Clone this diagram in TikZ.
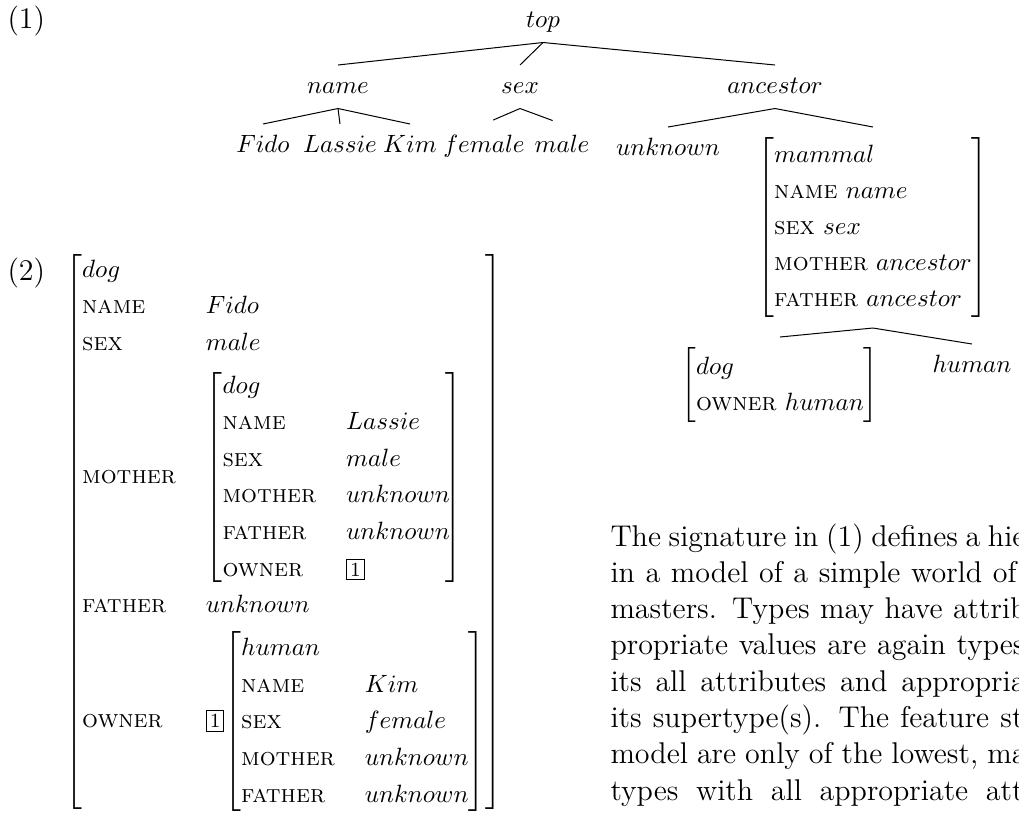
\documentclass[tikz,border=0pt]{standalone}
\usepackage{amsmath}
\usepackage{tikz}
\usetikzlibrary{positioning}

\renewcommand{\arraystretch}{1.2}
\newcommand{\rasgo}[1]{\textsc{#1}}
\newcommand{\etiq}[1]{{\setlength{\fboxsep}{1.2pt}\fbox{\footnotesize #1}}}

\tikzset{
  tipo/.style={inner xsep=0pt, inner ysep=4pt, text height=7pt, text depth=2pt, anchor=base},
  avm/.style={inner xsep=0pt, inner ysep=4pt, anchor=north west},
  linea/.style={inner sep=0pt, anchor=base west, font=\fontsize{12}{14.5}\selectfont}
}

\begin{document}
\begin{tikzpicture}[x=0.4pt, y=-0.4pt]
            % Jerarquia de tipos (1) y estructura de rasgos (2)
            \useasboundingbox (0,0) rectangle (1019,822);
            \clip (0,0) rectangle (1019,822);

            \node[linea] (ej1) at (7,28) {(1)};
            \node[tipo] (top) at (543,27) {$top$};
            \foreach \nombre/\x in {name/338,sex/520,ancestor/775}
                \node[tipo] (\nombre) at (\x,93) {$\nombre$};
            \foreach \nombre/\x in {Fido/263,Lassie/340,Kim/410,female/484,male/562}
                \node[tipo] (\nombre) at (\x,152) {$\nombre$};
            \node[tipo] (unknown) at (668,155) {$unknown$};
            \node[tipo] (human) at (972,372) {$human$};

            \node[avm] (mammal) at (757,127) {$\left[\begin{array}{@{}l@{}}
                mammal\\
                \rasgo{name}\ name\\
                \rasgo{sex}\ sex\\
                \rasgo{mother}\ ancestor\\
                \rasgo{father}\ ancestor
            \end{array}\right]$};
            \node[avm] (dog) at (681,337) {$\left[\begin{array}{@{}l@{}}
                dog\\
                \rasgo{owner}\ human
            \end{array}\right]$};

            \foreach \a/\b in {top/name,top/sex,top/ancestor,name/Fido,name/Lassie,name/Kim,
                ancestor/unknown,ancestor/mammal,mammal/dog,mammal/human}
                \draw (\a.south) -- (\b.north);
            \draw[shorten >=4pt] (sex.south) -- (female.north);
            \draw[shorten >=4pt] (sex.south) -- (male.north);

            % (2)
            \node[linea] (ej2) at (7,280) {(2)};
            \node[avm] (rasgos) at (65,241) {\renewcommand{\arraystretch}{1.22}$\left[\begin{array}{@{}l@{\hspace{12pt}}l@{}}
                dog & \\
                \rasgo{name} & Fido\\
                \rasgo{sex} & male\\[2.5pt]
                \rasgo{mother} & \left[\begin{array}{@{}l@{\hspace{12pt}}l@{}}
                    dog & \\
                    \rasgo{name} & Lassie\\
                    \rasgo{sex} & male\\
                    \rasgo{mother} & unknown\\
                    \rasgo{father} & unknown\\
                    \rasgo{owner} & \etiq{1}
                \end{array}\!\right]\\[2.5pt]
                \rasgo{father} & unknown\\[2.5pt]
                \rasgo{owner} & \etiq{1}\!\left[\begin{array}{@{}l@{\hspace{12pt}}l@{}}
                    human & \\
                    \rasgo{name} & Kim\\
                    \rasgo{sex} & female\\
                    \rasgo{mother} & unknown\\
                    \rasgo{father} & unknown
                \end{array}\right]
            \end{array}\right]$};

            % texto cortado a la derecha
            \foreach \k/\ancho/\texto in {0/166/{The signature in (1) defines a hie},
                1/162.4/{in a model of a simple world of},
                2/166.4/{masters. Types may have attrib},
                3/165.6/{propriate values are again types},
                4/166/{its all attributes and appropria},
                5/165.2/{its supertype(s). The feature st},
                6/166.4/{model are only of the lowest, ma},
                7/165.2/{types with all appropriate att}}
                \node[linea] (l\k) at (610,546+36.3*\k) {\makebox[\ancho pt][s]{\texto}};
\end{tikzpicture}
\end{document}
